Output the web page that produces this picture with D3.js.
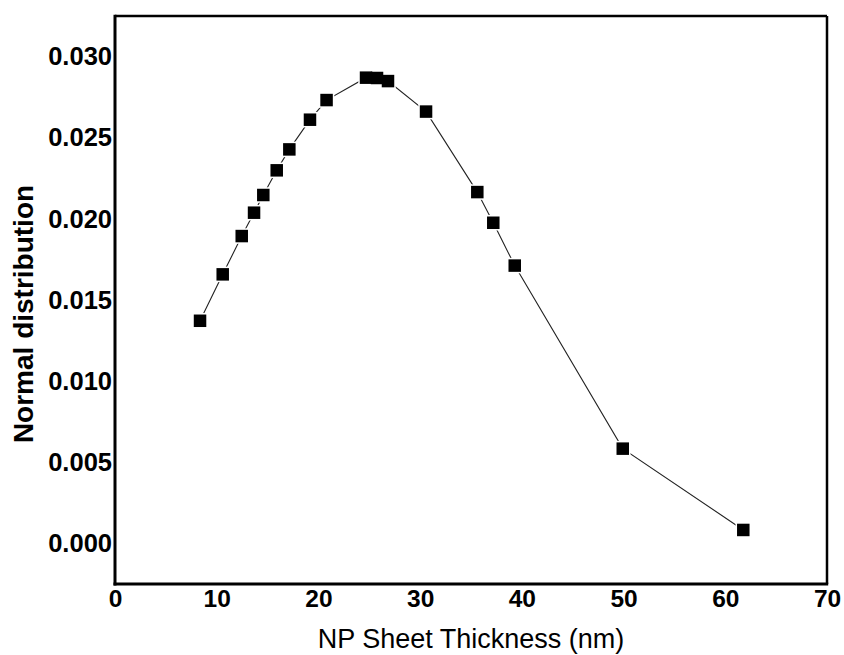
<!DOCTYPE html>
<html>
<head>
<meta charset="utf-8">
<script src="https://cdn.jsdelivr.net/npm/d3@7"></script>
<style>
  html, body { margin: 0; padding: 0; background: #fff; }
  svg { display: block; }
  text { font-family: "Liberation Sans", Arial, sans-serif; fill: #000; }
</style>
</head>
<body>
<svg id="chart" width="844" height="655"></svg>
<script>
// ---- data ----
const thickness = [8.36, 10.59, 12.46, 13.67, 14.58, 15.9, 17.14, 19.17, 20.8, 24.68, 25.76, 26.84, 30.58, 35.62, 37.19, 39.3, 49.92, 61.77];
const normalDist = [0.01372, 0.01658, 0.01894, 0.02038, 0.02147, 0.02299, 0.02428, 0.02611, 0.02732, 0.0287, 0.02868, 0.02849, 0.02661, 0.02165, 0.01976, 0.01712, 0.00584, 0.00083];
const xTicks = [0, 10, 20, 30, 40, 50, 60, 70];
const yTicks = [0, 0.005, 0.01, 0.015, 0.02, 0.025, 0.03];
const xTitle = "NP Sheet Thickness (nm)";
const yTitle = "Normal distribution";

// ---- layout ----
const pLeft = 115, pRight = 827, pTop = 16, pBottom = 584;
const svg = d3.select("#chart");

const x = d3.scaleLinear().domain([0, 70]).range([pLeft, pRight]);
const y = d3.scaleLinear().domain([-0.0025, 0.0325]).range([pBottom, pTop]);

// axes (labels only, no tick marks)
const xAxis = svg.append("g")
  .attr("transform", `translate(0,${pBottom})`)
  .call(d3.axisBottom(x).tickValues(xTicks).tickFormat(d3.format("d")).tickSize(0).tickPadding(6));
xAxis.select(".domain").remove();
xAxis.selectAll("text")
  .style("font-family", '"Liberation Sans", Arial, sans-serif')
  .style("font-size", "24.5px").style("font-weight", "bold").attr("fill", "#000");

const yAxis = svg.append("g")
  .attr("transform", `translate(${pLeft},0)`)
  .call(d3.axisLeft(y).tickValues(yTicks).tickFormat(d3.format(".3f")).tickSize(0).tickPadding(3));
yAxis.select(".domain").remove();
yAxis.selectAll("text")
  .style("font-family", '"Liberation Sans", Arial, sans-serif')
  .style("font-size", "25.5px").style("font-weight", "bold").attr("fill", "#000");

// frame
svg.append("line").attr("x1", pLeft).attr("x2", pRight).attr("y1", pTop).attr("y2", pTop)
  .attr("stroke", "#000").attr("stroke-width", 2.5);
svg.append("line").attr("x1", pRight).attr("x2", pRight).attr("y1", pTop).attr("y2", pBottom)
  .attr("stroke", "#000").attr("stroke-width", 2.5);
svg.append("line").attr("x1", pLeft).attr("x2", pLeft).attr("y1", pTop - 1.2).attr("y2", pBottom + 1.5)
  .attr("stroke", "#000").attr("stroke-width", 3);
svg.append("line").attr("x1", pLeft - 1.5).attr("x2", pRight + 1.2).attr("y1", pBottom).attr("y2", pBottom)
  .attr("stroke", "#000").attr("stroke-width", 3);

// series
const pts = thickness.map((t, i) => ({ t, v: normalDist[i] }));
const line = d3.line().x(d => x(d.t)).y(d => y(d.v));
svg.append("path").datum(pts)
  .attr("d", line).attr("fill", "none").attr("stroke", "#222").attr("stroke-width", 1.1);

const s = 12.5;
svg.append("g").selectAll("rect.halo").data(pts).join("rect")
  .attr("x", d => x(d.t) - s / 2 - 1.5).attr("y", d => y(d.v) - s / 2 - 1.5)
  .attr("width", s + 3).attr("height", s + 3).attr("fill", "#fff");
svg.append("g").selectAll("rect.mk").data(pts).join("rect")
  .attr("x", d => x(d.t) - s / 2).attr("y", d => y(d.v) - s / 2)
  .attr("width", s).attr("height", s).attr("fill", "#000");

// titles
svg.append("text").attr("x", (pLeft + pRight) / 2).attr("y", 648)
  .attr("text-anchor", "middle").style("font-size", "27px").text(xTitle);
svg.append("text").attr("transform", "translate(33,314) rotate(-90)")
  .attr("text-anchor", "middle").style("font-size", "28px").style("font-weight", "bold").text(yTitle);
</script>
</body>
</html>
